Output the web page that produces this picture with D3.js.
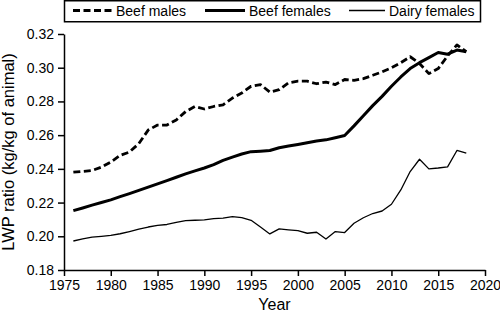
<!DOCTYPE html>
<html lang="en">
<head>
  <meta charset="UTF-8">
  <title>LWP ratio</title>
  <script src="https://d3js.org/d3.v7.min.js"></script>
  <style>
    body { margin: 0; background: #fff; font-family: "Liberation Sans", Arial, sans-serif; }
    .axis path, .axis line { stroke: #000; stroke-width: 1.5px; }
    .axis text { font-size: 14px; fill: #000; font-family: "Liberation Sans", Arial, sans-serif; }
    .line { fill: none; stroke: #000; stroke-linejoin: round; }
  </style>
</head>
<body>
  <svg width="500" height="312"></svg>
  <script>
    var years = d3.range(1976, 2019);

    var beefMales = [0.238, 0.2385, 0.239, 0.241, 0.244, 0.248, 0.250, 0.255, 0.263, 0.266,
      0.266, 0.269, 0.274, 0.277, 0.2755, 0.277, 0.278, 0.282, 0.285, 0.289,
      0.290, 0.2855, 0.287, 0.291, 0.292, 0.292, 0.2905, 0.2915, 0.290, 0.293,
      0.2925, 0.2935, 0.2955, 0.2975, 0.300, 0.303, 0.3065, 0.3025, 0.2965, 0.2995,
      0.307, 0.3135, 0.3095];

    var beefFemales = [0.2152, 0.2168, 0.2185, 0.2200, 0.2216, 0.2235, 0.2253, 0.2272, 0.2292, 0.2311,
      0.2330, 0.2350, 0.2370, 0.2388, 0.2405, 0.2425, 0.2450, 0.2470, 0.2488, 0.2502,
      0.2505, 0.2509, 0.2525, 0.2535, 0.2545, 0.2555, 0.2565, 0.2572, 0.2585, 0.2598,
      0.2655, 0.2715, 0.2775, 0.2830, 0.2890, 0.2945, 0.2995, 0.3030, 0.3060, 0.3090,
      0.3080, 0.3105, 0.3095];

    var dairyFemales = [0.1972, 0.1985, 0.1995, 0.2000, 0.2005, 0.2015, 0.2028, 0.2042, 0.2055, 0.2065,
      0.2070, 0.2082, 0.2093, 0.2095, 0.2097, 0.2105, 0.2108, 0.2117, 0.2111, 0.2095,
      0.2055, 0.2014, 0.2044, 0.2038, 0.2033, 0.2018, 0.2024, 0.1984, 0.2028, 0.2022,
      0.2077, 0.2110, 0.2135, 0.2150, 0.2190, 0.2275, 0.2384, 0.2457, 0.2400, 0.2405,
      0.2412, 0.2509, 0.2493];

    var xTicks = [1975, 1980, 1985, 1990, 1995, 2000, 2005, 2010, 2015, 2020];
    var yTicks = [0.18, 0.20, 0.22, 0.24, 0.26, 0.28, 0.30, 0.32];

    var series = [
      {name: "Beef males", values: beefMales, width: 2.8, dash: "7,3.5"},
      {name: "Beef females", values: beefFemales, width: 3, dash: null},
      {name: "Dairy females", values: dairyFemales, width: 1.3, dash: null}
    ];

    var svg = d3.select("svg"),
        margin = {top: 34, right: 15, bottom: 42, left: 64},
        width = +svg.attr("width") - margin.left - margin.right,
        height = +svg.attr("height") - margin.top - margin.bottom;

    var g = svg.append("g").attr("transform", "translate(" + margin.left + "," + margin.top + ")");

    var x = d3.scaleLinear().domain([1975, 2020]).range([0, width]),
        y = d3.scaleLinear().domain([0.18, 0.32]).range([height, 0]);

    // axes
    g.append("g")
        .attr("class", "axis")
        .attr("transform", "translate(0," + height + ")")
        .call(d3.axisBottom(x).tickValues(xTicks).tickFormat(d3.format("d")).tickSize(6).tickPadding(4).tickSizeOuter(0));

    g.append("g")
        .attr("class", "axis")
        .call(d3.axisLeft(y).tickValues(yTicks).tickFormat(d3.format(".2f")).tickSize(6).tickPadding(4).tickSizeOuter(0));

    // axis titles
    svg.append("text")
        .attr("x", margin.left + width / 2)
        .attr("y", 310)
        .attr("text-anchor", "middle")
        .style("font-size", "16px")
        .text("Year");

    svg.append("text")
        .attr("transform", "translate(14," + (margin.top + height / 2) + ") rotate(-90)")
        .attr("text-anchor", "middle")
        .style("font-size", "16.5px")
        .text("LWP ratio (kg/kg of animal)");

    // lines
    var line = d3.line()
        .x(function(d, i) { return x(years[i]); })
        .y(function(d) { return y(d); });

    series.forEach(function(s) {
      g.append("path")
          .datum(s.values)
          .attr("class", "line")
          .attr("d", line)
          .style("stroke-width", s.width)
          .style("stroke-dasharray", s.dash);
    });

    // legend
    var legend = svg.append("g");
    legend.append("rect")
        .attr("x", 64.5).attr("y", 0.75)
        .attr("width", 416).attr("height", 21)
        .attr("fill", "#fff")
        .attr("stroke", "#000")
        .attr("stroke-width", 1.5);

    var legendPos = [{x1: 73, x2: 112}, {x1: 205, x2: 245}, {x1: 349, x2: 385}];
    series.forEach(function(s, i) {
      legend.append("line")
          .attr("x1", legendPos[i].x1).attr("x2", legendPos[i].x2)
          .attr("y1", 10.5).attr("y2", 10.5)
          .attr("stroke", "#000")
          .attr("stroke-width", s.width)
          .style("stroke-dasharray", s.dash);
      legend.append("text")
          .attr("x", legendPos[i].x2 + 4)
          .attr("y", 16)
          .style("font-size", "14px")
          .text(s.name);
    });
  </script>
</body>
</html>
